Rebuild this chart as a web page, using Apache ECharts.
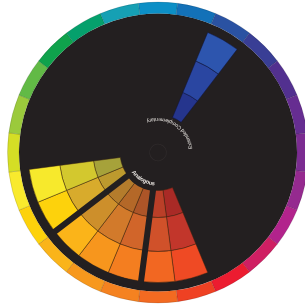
<!DOCTYPE html>
<html><head><meta charset="utf-8">
<script src="https://cdn.jsdelivr.net/npm/echarts@6/dist/echarts.min.js"></script>
<style>html,body{margin:0;padding:0;background:#fff;}#c{width:305px;height:307px;}</style>
</head><body><div id="c"></div>
<script>
// 24 hue steps, clockwise from 12 o'clock (15 degrees each)
const hues = ['Cyan Blue','Azure','Blue','Indigo','Blue Violet','Violet','Purple','Red Violet','Magenta','Crimson','Red','Red Orange',
              'Orange Red','Orange','Deep Amber','Amber','Gold','Yellow','Yellow Green','Chartreuse','Green','Emerald','Teal','Cyan'];
const hueSteps = [1,1,1,1,1,1,1,1,1,1,1,1,1,1,1,1,1,1,1,1,1,1,1,1];
const ringColors = ['#0c8fc6','#1371b8','#2a52a2','#393e95','#52308f','#662d91','#7b2c91','#952a8f','#b2238c','#cf1f63','#ec1c30','#ef4123',
                    '#f36a21','#f58220','#f7981d','#fab41a','#fdd20b','#f9ea2d','#d5de25','#9bca3c','#62ba46','#0fa24c','#05a06c','#16a0b4'];
// Scheme cells (shade / tone / pure), null = not part of scheme
const shadeColors = [null,null,'#25358d',null,null,null,null,null,null,null,null,'#a92a26',
                     '#ba3f28','#ad5528','#b46828','#b47c2c','#bd9a2e','#a6a23a',null,null,null,null,null,null];
const toneColors  = [null,null,'#2a46a1',null,null,null,null,null,null,null,null,'#c2362b',
                     '#d0512a','#d1652a','#d27a2b','#cd8f2b','#d8ab2c','#d3c82e',null,null,null,null,null,null];
const pureColors  = [null,null,'#2d55ae',null,null,null,null,null,null,null,null,'#ef4a24',
                     '#f26722','#f47e20','#f7961d','#fbb419','#fdd20c','#f7e92c',null,null,null,null,null,null];
// groups of the analogous scheme: [before, red, orange, yellow, after]
const groupSpans = [11, 2, 3, 2, 6];
const groupSeparated = [false, false, true, false, false];
const labels = ['Extended Complementary', 'Analogous'];

const CX = 158, CY = 152.5, BG = '#231f20';
const chart = echarts.init(document.getElementById('c'), null, {renderer:'canvas'});

function base(r0, r1, data, extra) {
  return Object.assign({type:'pie', center:[CX,CY], radius:[r0,r1], startAngle:97.5, clockwise:true,
    silent:true, animation:false, label:{show:false}, labelLine:{show:false}, emphasis:{disabled:true},
    avoidLabelOverlap:false, data:data}, extra||{});
}
function cellRing(r0, r1, colors, line) {
  return base(r0, r1, hues.map((h,i)=>({name:h, value:hueSteps[i], itemStyle:{
    color: colors[i] || 'rgba(0,0,0,0)',
    borderColor: colors[i] ? (i===2 ? 'rgba(15,20,60,0.6)' : line) : 'rgba(0,0,0,0)',
    borderWidth: colors[i] ? 0.8 : 0}})));
}

const series = [
  base(0, 139, [{name:'bg', value:1, itemStyle:{color:BG}}]),
  base(139, 150.5, hues.map((h,i)=>({name:h, value:hueSteps[i], itemStyle:{color:ringColors[i], borderColor:'rgba(0,0,0,0.18)', borderWidth:0.7}}))),
  cellRing(38, 65, shadeColors, 'rgba(60,35,15,0.6)'),
  cellRing(65, 99, toneColors, 'rgba(60,35,15,0.6)'),
  cellRing(99, 130, pureColors, 'rgba(60,35,15,0.6)'),
  base(36, 133, groupSpans.map((v,i)=>({name:'g'+i, value:v, itemStyle:{color:'rgba(0,0,0,0)',
    borderColor: groupSeparated[i] ? BG : 'rgba(0,0,0,0)', borderWidth: groupSeparated[i] ? 6 : 0}}))),
  base(8, 8.8, [{name:'hub', value:1, itemStyle:{color:'#2f2a2b'}}])
];

// curved text, read counter-clockwise, letter tops toward centre
const meas = document.createElement('canvas').getContext('2d');
function arcText(str, r, startDeg, endDeg, size, weight) {
  const font = (weight||'normal') + ' ' + size + 'px "Liberation Sans", Arial, sans-serif';
  meas.font = font;
  const ws = Array.from(str).map(ch => meas.measureText(ch).width);
  const total = ws.reduce((a,b)=>a+b,0);
  const span = startDeg - endDeg;
  const els = []; let s = 0;
  Array.from(str).forEach((ch,i)=>{
    const mid = s + ws[i]/2; s += ws[i];
    const th = startDeg - span * mid/total;
    const rad = th*Math.PI/180;
    els.push({type:'text', x: CX + r*Math.sin(rad), y: CY - r*Math.cos(rad), rotation:(180-th)*Math.PI/180, z:100, silent:true,
      style:{text:ch, fill:'#e6e2de', font:font, align:'center', verticalAlign:'middle'}});
  });
  return els;
}
const graphics = [].concat(
  arcText(labels[0], 33, 84, -20, 5.2),
  arcText(labels[1], 31.5, 233, 186, 5.6, 'bold')
);

chart.setOption({backgroundColor:'#ffffff', animation:false, series:series, graphic:{elements:graphics}});
</script></body></html>
